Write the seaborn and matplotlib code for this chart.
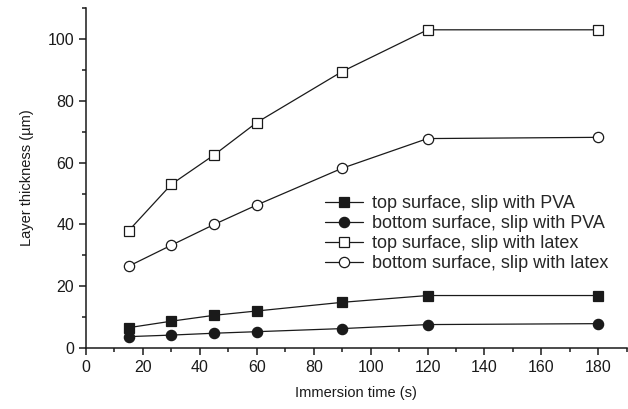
import pandas as pd
import matplotlib
matplotlib.use('Agg')
import matplotlib.pyplot as plt
import seaborn as sns
from matplotlib.ticker import MultipleLocator

# Data
time_s = [15, 30, 45, 60, 90, 120, 180]
top_pva = [6.6, 8.7, 10.6, 12.0, 14.8, 17.0, 17.0]
bottom_pva = [3.7, 4.2, 4.8, 5.3, 6.3, 7.6, 7.9]
top_latex = [38.0, 53.0, 62.5, 73.0, 89.5, 103.0, 103.0]
bottom_latex = [26.5, 33.3, 40.0, 46.3, 58.2, 67.8, 68.2]

labels = ['top surface, slip with PVA', 'bottom surface, slip with PVA',
          'top surface, slip with latex', 'bottom surface, slip with latex']

rows = []
for lab, vals in zip(labels, [top_pva, bottom_pva, top_latex, bottom_latex]):
    for t, v in zip(time_s, vals):
        rows.append({'time': t, 'thickness': v, 'series': lab})
data = pd.DataFrame(rows)

sns.set_style('ticks')
plt.rcParams['font.family'] = ['Liberation Sans', 'DejaVu Sans']

fig = plt.figure(figsize=(6.28, 4.09), dpi=100)
ax = fig.add_axes([0.137, 0.149, 0.861, 0.831])

markers = ['s', 'o', 's', 'o']
faces = ['#1a1a1a', '#1a1a1a', 'white', 'white']
sizes = [6.8, 7.4, 6.8, 7.4]
for lab, m, fc, ms in zip(labels, markers, faces, sizes):
    sub = data[data['series'] == lab]
    sns.lineplot(data=sub, x='time', y='thickness', ax=ax, color='#1a1a1a',
                 linewidth=0.9, marker=m, markersize=ms, markerfacecolor=fc,
                 markeredgecolor='#1a1a1a', markeredgewidth=0.9, label=lab)

ax.set_xlim(0, 190)
ax.set_ylim(0, 110)
ax.xaxis.set_major_locator(MultipleLocator(20))
ax.xaxis.set_minor_locator(MultipleLocator(10))
ax.yaxis.set_major_locator(MultipleLocator(20))
ax.yaxis.set_minor_locator(MultipleLocator(10))
ax.tick_params(which='major', direction='out', length=5, width=1.1, labelsize=11.5, colors='#1a1a1a')
ax.tick_params(which='minor', direction='out', length=3, width=1.1, colors='#1a1a1a')
for s in ['left', 'bottom']:
    ax.spines[s].set_linewidth(1.1)
    ax.spines[s].set_color('#1a1a1a')
sns.despine(ax=ax)

ax.set_xlabel('Immersion time (s)', fontsize=10.5, color='#1a1a1a', labelpad=8)
ax.set_ylabel('Layer thickness (\u00b5m)', fontsize=10.5, color='#1a1a1a', labelpad=10)

leg = ax.legend(loc='upper left', bbox_to_anchor=(0.442, 0.45), frameon=False,
                fontsize=13, handlelength=2.1, handletextpad=0.5,
                labelspacing=0.17, borderaxespad=0, borderpad=0)

fig.savefig('out.png', dpi=100)
